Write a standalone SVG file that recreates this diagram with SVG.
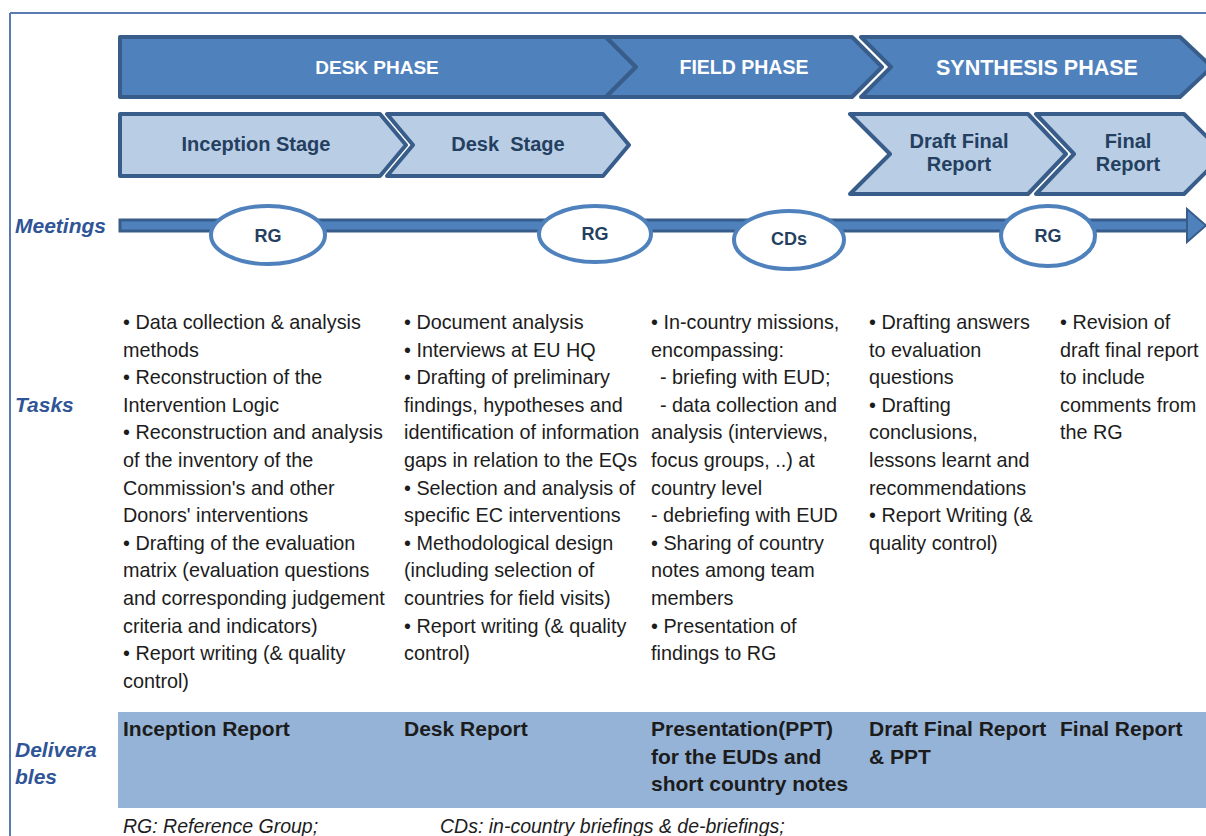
<svg xmlns="http://www.w3.org/2000/svg" width="1206" height="836" viewBox="0 0 1206 836">
<style>
.phase{fill:#4f81bd;stroke:#385d8a;stroke-width:4;stroke-linejoin:round}
.stage{fill:#b9cde5;stroke:#385d8a;stroke-width:4;stroke-linejoin:round}
.ptxt{font-family:"Liberation Sans",Arial,sans-serif;font-weight:bold;fill:#ffffff;text-anchor:middle}
.stxt{font-family:"Liberation Sans",Arial,sans-serif;font-weight:bold;font-size:20px;fill:#243f60;text-anchor:middle}
.ell{fill:#ffffff;stroke:#4f81bd;stroke-width:4}
.etxt{font-family:"Liberation Sans",Arial,sans-serif;font-weight:bold;font-size:18px;fill:#243f60;text-anchor:middle}
.lab{font-family:"Liberation Sans",Arial,sans-serif;font-weight:bold;font-style:italic;font-size:21px;fill:#2f5597}
.task{font-family:"Liberation Sans",Arial,sans-serif;font-size:19.8px;fill:#1c1c1c}
.del{font-family:"Liberation Sans",Arial,sans-serif;font-weight:bold;font-size:21px;fill:#1c1c1c}
.foot{font-family:"Liberation Sans",Arial,sans-serif;font-style:italic;font-size:19.5px;fill:#1c1c1c}
</style>
<rect width="1206" height="836" fill="#ffffff"/>
<g id="frame">
<line x1="10" y1="13" x2="1206" y2="13" stroke="#5a7bb0" stroke-width="2"/>
<line x1="10" y1="13" x2="10" y2="836" stroke="#5a7bb0" stroke-width="2"/>
</g>
<g id="desk-phase">
<polygon class="phase" points="120,37 606,37 636,67 606,97 120,97"/>
<text class="ptxt" x="377" y="74" font-size="19px">DESK PHASE</text>
</g>
<g id="field-phase">
<polygon class="phase" points="606,37 852,37 882,67 852,97 606,97 636,67"/>
<text class="ptxt" x="744" y="74" font-size="19.5px">FIELD PHASE</text>
</g>
<g id="synthesis-phase">
<polygon class="phase" points="861,37 1180,37 1212,67 1180,97 861,97 891,67"/>
<text class="ptxt" x="1037" y="75" font-size="21.5px">SYNTHESIS PHASE</text>
</g>
<g id="inception-stage">
<polygon class="stage" points="120,114 380,114 406,145 380,176 120,176"/>
<text class="stxt" x="256" y="151">Inception Stage</text>
</g>
<g id="desk-stage">
<polygon class="stage" points="387,114 603,114 629,145 603,176 387,176 413,145"/>
<text class="stxt" x="508" y="151" xml:space="preserve">Desk  Stage</text>
</g>
<g id="draft-final-report">
<polygon class="stage" points="850,114 1028,114 1066,154 1028,194 850,194 890,154"/>
<text class="stxt" x="959" y="148">Draft Final</text>
<text class="stxt" x="959" y="171">Report</text>
</g>
<g id="final-report">
<polygon class="stage" points="1036,114 1184,114 1224,154 1184,194 1036,194 1074,154"/>
<text class="stxt" x="1128" y="148">Final</text>
<text class="stxt" x="1128" y="171">Report</text>
</g>
<g id="connectors">
<rect x="120" y="220" width="1070" height="11" fill="#4f81bd" stroke="#385d8a" stroke-width="3"/>
<polygon points="1187,209 1206,225.5 1187,242" fill="#4f81bd" stroke="#385d8a" stroke-width="2"/>
</g>
<g id="meeting-rg1">
<ellipse class="ell" cx="268" cy="235" rx="57" ry="29"/>
<text class="etxt" x="268" y="242">RG</text>
</g>
<g id="meeting-rg2">
<ellipse class="ell" cx="595" cy="234" rx="56" ry="28"/>
<text class="etxt" x="595" y="240">RG</text>
</g>
<g id="meeting-cds">
<ellipse class="ell" cx="789" cy="240" rx="55" ry="29"/>
<text class="etxt" x="789" y="245">CDs</text>
</g>
<g id="meeting-rg3">
<ellipse class="ell" cx="1048" cy="236" rx="47" ry="30"/>
<text class="etxt" x="1048" y="242">RG</text>
</g>
<g id="labels">
<text class="lab" x="15" y="233">Meetings</text>
<text class="lab" x="15" y="412">Tasks</text>
<text class="lab" x="15" y="757">Delivera</text>
<text class="lab" x="15" y="784">bles</text>
</g>
<g id="tasks-inception">
<text class="task" x="123" y="329">• Data collection &amp; analysis</text>
<text class="task" x="123" y="356.6">methods</text>
<text class="task" x="123" y="384.2">• Reconstruction of the</text>
<text class="task" x="123" y="411.8">Intervention Logic</text>
<text class="task" x="123" y="439.4">• Reconstruction and analysis</text>
<text class="task" x="123" y="467">of the inventory of the</text>
<text class="task" x="123" y="494.6">Commission's and other</text>
<text class="task" x="123" y="522.2">Donors' interventions</text>
<text class="task" x="123" y="549.8">• Drafting of the evaluation</text>
<text class="task" x="123" y="577.4">matrix (evaluation questions</text>
<text class="task" x="123" y="605">and corresponding judgement</text>
<text class="task" x="123" y="632.6">criteria and indicators)</text>
<text class="task" x="123" y="660.2">• Report writing (&amp; quality</text>
<text class="task" x="123" y="687.8">control)</text>
</g>
<g id="tasks-desk">
<text class="task" x="404" y="329">• Document analysis</text>
<text class="task" x="404" y="356.6">• Interviews at EU HQ</text>
<text class="task" x="404" y="384.2">• Drafting of preliminary</text>
<text class="task" x="404" y="411.8">findings, hypotheses and</text>
<text class="task" x="404" y="439.4">identification of information</text>
<text class="task" x="404" y="467">gaps in relation to the EQs</text>
<text class="task" x="404" y="494.6">• Selection and analysis of</text>
<text class="task" x="404" y="522.2">specific EC interventions</text>
<text class="task" x="404" y="549.8">• Methodological design</text>
<text class="task" x="404" y="577.4">(including selection of</text>
<text class="task" x="404" y="605">countries for field visits)</text>
<text class="task" x="404" y="632.6">• Report writing (&amp; quality</text>
<text class="task" x="404" y="660.2">control)</text>
</g>
<g id="tasks-field">
<text class="task" x="651" y="329">• In-country missions,</text>
<text class="task" x="651" y="356.6">encompassing:</text>
<text class="task" x="660" y="384.2">- briefing with EUD;</text>
<text class="task" x="660" y="411.8">- data collection and</text>
<text class="task" x="651" y="439.4">analysis (interviews,</text>
<text class="task" x="651" y="467">focus groups, ..) at</text>
<text class="task" x="651" y="494.6">country level</text>
<text class="task" x="651" y="522.2">- debriefing with EUD</text>
<text class="task" x="651" y="549.8">• Sharing of country</text>
<text class="task" x="651" y="577.4">notes among team</text>
<text class="task" x="651" y="605">members</text>
<text class="task" x="651" y="632.6">• Presentation of</text>
<text class="task" x="651" y="660.2">findings to RG</text>
</g>
<g id="tasks-draft">
<text class="task" x="869" y="329">• Drafting answers</text>
<text class="task" x="869" y="356.6">to evaluation</text>
<text class="task" x="869" y="384.2">questions</text>
<text class="task" x="869" y="411.8">• Drafting</text>
<text class="task" x="869" y="439.4">conclusions,</text>
<text class="task" x="869" y="467">lessons learnt and</text>
<text class="task" x="869" y="494.6">recommendations</text>
<text class="task" x="869" y="522.2">• Report Writing (&amp;</text>
<text class="task" x="869" y="549.8">quality control)</text>
</g>
<g id="tasks-final">
<text class="task" x="1060" y="329">• Revision of</text>
<text class="task" x="1060" y="356.6">draft final report</text>
<text class="task" x="1060" y="384.2">to include</text>
<text class="task" x="1060" y="411.8">comments from</text>
<text class="task" x="1060" y="439.4">the RG</text>
</g>
<g id="deliverables">
<rect x="118" y="712" width="1088" height="96" fill="#95b3d7"/>
<text class="del" x="123" y="736">Inception Report</text>
<text class="del" x="404" y="736">Desk Report</text>
<text class="del" x="651" y="736">Presentation(PPT)</text>
<text class="del" x="651" y="763.5">for the EUDs and</text>
<text class="del" x="651" y="791">short country notes</text>
<text class="del" x="869" y="736">Draft Final Report</text>
<text class="del" x="869" y="763.5">&amp; PPT</text>
<text class="del" x="1060" y="736">Final Report</text>
</g>
<g id="footer">
<text class="foot" x="123" y="833">RG: Reference Group;</text>
<text class="foot" x="440" y="833">CDs: in-country briefings &amp; de-briefings;</text>
</g>
</svg>
